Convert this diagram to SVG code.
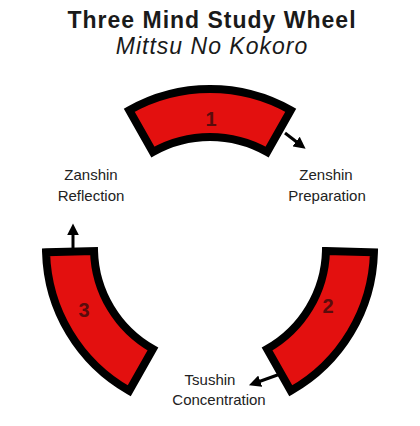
<svg xmlns="http://www.w3.org/2000/svg" width="420" height="426" viewBox="0 0 420 426">
<defs>
<style>
.seg{fill:#e3100f;stroke:#000;stroke-width:8;stroke-linejoin:miter}
.num{font-family:"Liberation Sans",Arial,sans-serif;font-weight:bold;font-size:20px;fill:#5a0c0c;text-anchor:middle}
.lbl{font-family:"Liberation Sans",Arial,sans-serif;font-size:15px;fill:#222;text-anchor:middle}
.ttl{font-family:"Liberation Sans",Arial,sans-serif;font-size:23px;letter-spacing:1px;fill:#1a1a1a;text-anchor:middle}
.arr{stroke:#000;stroke-width:3;fill:none;marker-end:url(#ah)}
</style>
<marker id="ah" viewBox="0 0 10 10" refX="2" refY="5" markerWidth="4" markerHeight="4" markerUnits="strokeWidth" orient="auto">
<path d="M0 0 L10 5 L0 10 Z" fill="#000"/>
</marker>
</defs>
<rect width="420" height="426" fill="#fff"/>
<g id="title">
<text class="ttl" x="212" y="28" font-weight="bold">Three Mind Study Wheel</text>
<text class="ttl" x="212" y="54" font-style="italic">Mittsu No Kokoro</text>
</g>
<g id="connectors">
<line class="arr" x1="285" y1="133" x2="298" y2="143"/>
<line class="arr" x1="283" y1="373" x2="258" y2="382"/>
<line class="arr" x1="73" y1="249" x2="73" y2="233"/>
</g>
<g id="seg1">
<path class="seg" d="M129.25 110.25 A164 164 0 0 1 290.75 110.25 L267.12 152.03 A116 116 0 0 0 152.88 152.03 Z"/>
<text class="num" x="211" y="126">1</text>
</g>
<g id="seg2">
<path class="seg" d="M325.96 251.04 L373.94 252.29 A164 164 0 0 1 290.76 390.74 L267.12 348.96 A116 116 0 0 0 325.96 251.04 Z"/>
<text class="num" x="328" y="313">2</text>
</g>
<g id="seg3">
<path class="seg" d="M46.06 252.29 L94.04 251.04 A116 116 0 0 0 152.88 348.96 L129.24 390.74 A164 164 0 0 1 46.06 252.29 Z"/>
<text class="num" x="84" y="317">3</text>
</g>
<g id="zanshin">
<text class="lbl" x="91" y="180">Zanshin</text>
<text class="lbl" x="91" y="201">Reflection</text>
</g>
<g id="zenshin">
<text class="lbl" x="326" y="180">Zenshin</text>
<text class="lbl" x="327" y="201">Preparation</text>
</g>
<g id="tsushin">
<text class="lbl" x="210" y="385">Tsushin</text>
<text class="lbl" x="219" y="405">Concentration</text>
</g>
</svg>
